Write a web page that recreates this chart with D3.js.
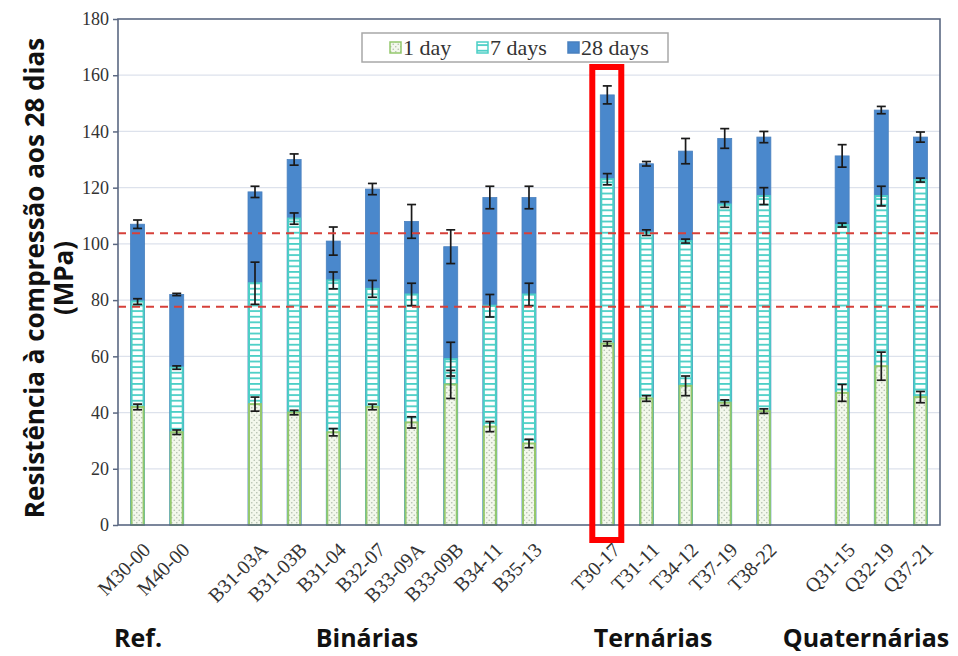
<!DOCTYPE html>
<html>
<head>
<meta charset="utf-8">
<script src="https://cdn.jsdelivr.net/npm/d3@7"></script>
<style>
  body { margin: 0; background: #fff; }
</style>
</head>
<body>
<div id="chart"></div>
<script>
// Chart data ("" = empty slot between groups)
var mixes = ["M30-00", "M40-00", "", "B31-03A", "B31-03B", "B31-04", "B32-07", "B33-09A", "B33-09B", "B34-11", "B35-13", "",
  "T30-17", "T31-11", "T34-12", "T37-19", "T38-22", "", "Q31-15", "Q32-19", "Q37-21"];
var day1 = [42, 33, null, 43, 40, 33, 42, 36.5, 50, 35, 29, null, 64.5, 45, 49.5, 43.5, 40.5, null, 47, 56.5, 45.5];
var day1Err = [1, 0.8, null, 2.5, 0.8, 1.3, 1, 2, 5, 1.8, 1.5, null, 0.8, 1, 3.5, 1, 0.8, null, 3, 5, 2];
var day7 = [79.5, 56, null, 86, 109, 87, 84, 82, 59, 78, 82, null, 123, 104, 101, 114, 117, null, 106.7, 117, 122.7];
var day7Err = [1, 0.6, null, 7.5, 2, 3, 3, 4, 6, 4, 4, null, 2, 1, 0.7, 1, 3, null, 0.7, 3.5, 0.7];
var day28 = [107, 82, null, 118.5, 130, 101, 119.5, 108, 99, 116.5, 116.5, null, 153, 128.5, 133, 137.5, 138, null, 131.3, 147.6, 138];
var day28Err = [1.5, 0.4, null, 2, 2, 5, 2, 6, 6, 4, 4, null, 3.2, 0.8, 4.5, 3.5, 2, null, 4, 1.3, 1.8];
var refLines = [103.8, 77.6];
var yTicks = [0, 20, 40, 60, 80, 100, 120, 140, 160, 180];
var legendNames = ["1 day", "7 days", "28 days"];
var groupNames = ["Ref.", "Binárias", "Ternárias", "Quaternárias"];
var groupX = [138, 367, 653, 866];

var svgWidth = 958;
var svgHeight = 656;
var margin = { top: 19, right: 18, bottom: 131, left: 118 };
var width = svgWidth - margin.left - margin.right;
var height = svgHeight - margin.top - margin.bottom;

var svg = d3.select("#chart")
  .append("svg")
  .attr("width", svgWidth)
  .attr("height", svgHeight);

// Patterns
var defs = svg.append("defs");
var dots = defs.append("pattern")
  .attr("id", "dots")
  .attr("patternUnits", "userSpaceOnUse")
  .attr("width", 5).attr("height", 5);
dots.append("rect").attr("width", 5).attr("height", 5).attr("fill", "#f3f8ec");
dots.append("circle").attr("cx", 1.25).attr("cy", 1.25).attr("r", 0.8).attr("fill", "#b4bfae");
dots.append("circle").attr("cx", 3.75).attr("cy", 3.75).attr("r", 0.8).attr("fill", "#b4bfae");

var stripes = defs.append("pattern")
  .attr("id", "stripes")
  .attr("patternUnits", "userSpaceOnUse")
  .attr("width", 6).attr("height", 5.6);
stripes.append("rect").attr("width", 6).attr("height", 5.6).attr("fill", "#ffffff");
stripes.append("rect").attr("y", 0).attr("width", 6).attr("height", 1.8).attr("fill", "#4ccfc6");

var chartGroup = svg.append("g")
  .attr("transform", `translate(${margin.left}, ${margin.top})`);

var xScale = d3.scaleBand()
  .domain(d3.range(mixes.length))
  .range([0, width]);

var yScale = d3.scaleLinear()
  .domain([0, 180])
  .range([height, 0]);

// Gridlines
chartGroup.append("g")
  .selectAll("line")
  .data(yTicks.slice(1, -1))
  .enter()
  .append("line")
  .attr("x1", 0).attr("x2", width)
  .attr("y1", d => yScale(d)).attr("y2", d => yScale(d))
  .attr("stroke", "#dde2ec")
  .attr("stroke-width", 1.2);

// Y axis
var leftAxis = d3.axisLeft(yScale).tickValues(yTicks).tickSize(5).tickPadding(4);
var yAxis = chartGroup.append("g").call(leftAxis);
yAxis.select(".domain").remove();
yAxis.selectAll("line").attr("stroke", "#5b6882").attr("stroke-width", 1.5);
yAxis.selectAll("text")
  .style("font-family", "Liberation Serif, serif")
  .style("font-size", "18px")
  .attr("fill", "#333");

var idx = d3.range(mixes.length).filter(i => mixes[i] !== "");
var bw = 14;
var cx = i => xScale(i) + xScale.bandwidth() / 2;

// Bars: 28 days behind, 7 days, then 1 day in front
chartGroup.append("g").selectAll("rect")
  .data(idx).enter().append("rect")
  .attr("x", i => cx(i) - bw / 2)
  .attr("y", i => yScale(day28[i]))
  .attr("width", bw)
  .attr("height", i => yScale(0) - yScale(day28[i]))
  .attr("fill", "#4a88cc")
  .attr("stroke", "#4a80be")
  .attr("stroke-width", 0.8);

chartGroup.append("g").selectAll("rect")
  .data(idx).enter().append("rect")
  .attr("x", i => cx(i) - bw / 2 + 1)
  .attr("y", i => yScale(day7[i]))
  .attr("width", bw - 2)
  .attr("height", i => yScale(0) - yScale(day7[i]))
  .attr("fill", "url(#stripes)")
  .attr("stroke", "#4ccfc6")
  .attr("stroke-width", 2);

chartGroup.append("g").selectAll("rect")
  .data(idx).enter().append("rect")
  .attr("x", i => cx(i) - bw / 2 + 1)
  .attr("y", i => yScale(day1[i]))
  .attr("width", bw - 2)
  .attr("height", i => yScale(0) - yScale(day1[i]))
  .attr("fill", "url(#dots)")
  .attr("stroke", "#94c86c")
  .attr("stroke-width", 2);

// Error bars
function errorBars(vals, errs) {
  var g = chartGroup.append("g").attr("stroke", "#1a1a1a").attr("stroke-width", 1.7);
  idx.forEach(function(i) {
    var lo = yScale(vals[i] - errs[i]);
    var hi = yScale(vals[i] + errs[i]);
    g.append("line").attr("x1", cx(i)).attr("x2", cx(i)).attr("y1", lo).attr("y2", hi);
    g.append("line").attr("x1", cx(i) - 4.5).attr("x2", cx(i) + 4.5).attr("y1", lo).attr("y2", lo);
    g.append("line").attr("x1", cx(i) - 4.5).attr("x2", cx(i) + 4.5).attr("y1", hi).attr("y2", hi);
  });
}
errorBars(day28, day28Err);
errorBars(day7, day7Err);
errorBars(day1, day1Err);

// Reference lines
chartGroup.append("g").selectAll("line")
  .data(refLines).enter().append("line")
  .attr("x1", 0).attr("x2", width)
  .attr("y1", d => yScale(d)).attr("y2", d => yScale(d))
  .attr("stroke", "#d6403a")
  .attr("stroke-width", 2)
  .attr("stroke-dasharray", "8,6");

// Frame
chartGroup.append("rect")
  .attr("width", width).attr("height", height)
  .attr("fill", "none")
  .attr("stroke", "#5b6882")
  .attr("stroke-width", 1.6);

// X labels
chartGroup.append("g").selectAll("text")
  .data(idx).enter().append("text")
  .attr("transform", i => `translate(${cx(i) + 7}, ${height + 19}) rotate(-45)`)
  .attr("text-anchor", "end")
  .attr("dy", "0.5em")
  .style("font-family", "Liberation Serif, serif")
  .style("font-size", "20px")
  .attr("fill", "#333")
  .text(i => mixes[i]);

// Legend
var legend = svg.append("g").attr("transform", "translate(362, 33)");
legend.append("rect")
  .attr("width", 306).attr("height", 29)
  .attr("fill", "#fff")
  .attr("stroke", "#a8a8a8")
  .attr("stroke-width", 1.5);
var legendX = [41, 128, 219];
var legendFill = ["url(#dots)", "url(#stripes)", "#4a88cc"];
var legendStroke = ["#94c86c", "#4ccfc6", "#4a80be"];
legendNames.forEach(function(name, k) {
  legend.append("rect")
    .attr("x", legendX[k] - 13).attr("y", 9)
    .attr("width", 11).attr("height", 11)
    .attr("fill", legendFill[k])
    .attr("stroke", legendStroke[k])
    .attr("stroke-width", 1.5);
  legend.append("text")
    .attr("x", legendX[k]).attr("y", 22)
    .style("font-family", "Liberation Serif, serif")
    .style("font-size", "22px")
    .attr("fill", "#333")
    .text(name);
});

// Highlight box around T30-17
var hi = mixes.indexOf("T30-17");
svg.append("rect")
  .attr("x", margin.left + cx(hi) - 15)
  .attr("y", 67)
  .attr("width", 29)
  .attr("height", 473)
  .attr("fill", "none")
  .attr("stroke", "#ff0000")
  .attr("stroke-width", 6);

// Group labels
svg.append("g").selectAll("text")
  .data(groupNames).enter().append("text")
  .attr("x", (d, k) => groupX[k])
  .attr("y", 647)
  .attr("text-anchor", "middle")
  .style("font-family", "Open Sans, sans-serif")
  .style("font-weight", "bold")
  .style("font-size", "25px")
  .attr("fill", "#111")
  .text(d => d);

// Y axis title
var yTitle = svg.append("text")
  .attr("transform", "translate(44, 278) rotate(-90)")
  .attr("text-anchor", "middle")
  .style("font-family", "Open Sans, sans-serif")
  .style("font-weight", "bold")
  .style("font-size", "26px")
  .attr("fill", "#111");
yTitle.append("tspan").attr("x", 0).attr("dy", 0).text("Resistência à compressão aos 28 dias");
yTitle.append("tspan").attr("x", 0).attr("dy", "1.12em").text("(MPa)");
</script>
</body>
</html>
